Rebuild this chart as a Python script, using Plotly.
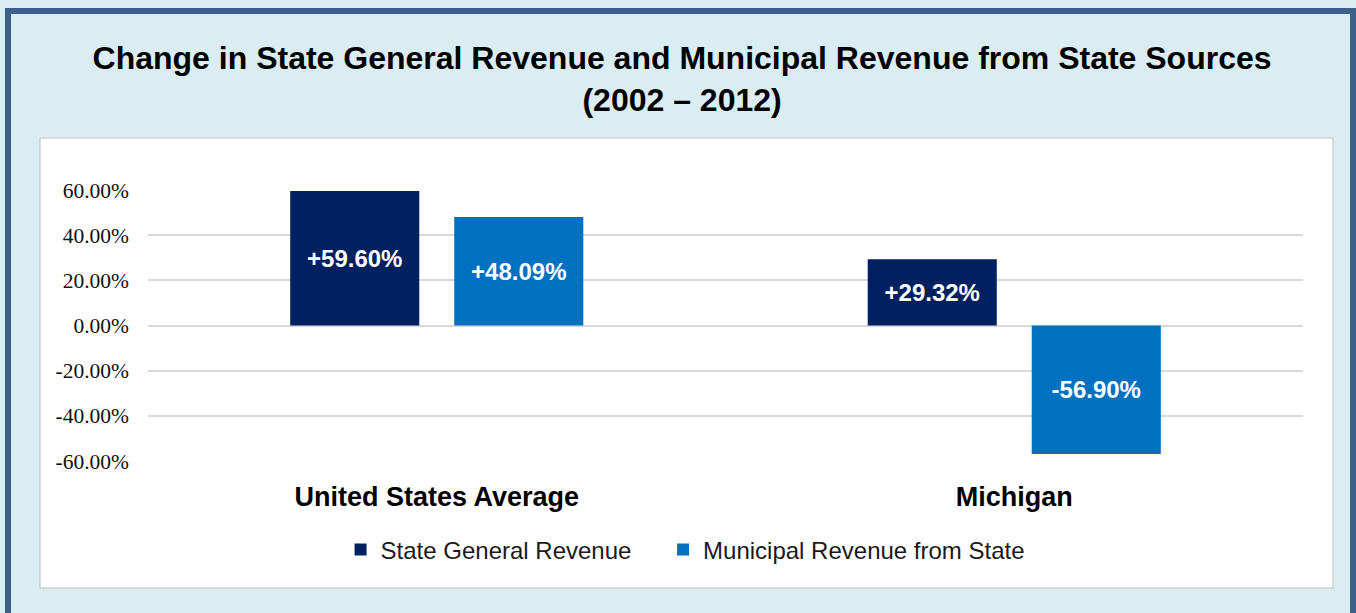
import plotly.graph_objects as go

# data (percent change 2002-2012)
categories = ["United States Average", "Michigan"]
state_general = [59.60, 29.32]
municipal_from_state = [48.09, -56.90]
series_names = ["State General Revenue", "Municipal Revenue from State"]
y_ticks = [-60, -40, -20, 0, 20, 40, 60]

NAVY = "#002060"
BLUE = "#0070C0"


def pct_label(v):
    return f"{v:+.2f}%"


fig = go.Figure()

# a few non-breaking spaces widen the gap between the legend entries
pads = ["\u00a0" * 4, ""]
for name, values, color, pad in zip(series_names, [state_general, municipal_from_state], [NAVY, BLUE], pads):
    fig.add_trace(go.Bar(
        x=categories, y=values, name=name + pad,
        marker=dict(color=color, line=dict(width=0)),
        text=[pct_label(v) for v in values],
        textposition="inside", insidetextanchor="middle",
        textfont=dict(family="Arial, Liberation Sans", size=24, color="white", weight="bold"),
        cliponaxis=False,
    ))

# plot area sits at x 148..1303, y 190..461 in the 1356x613 page
L, R, T, B = 148, 53, 190, 152
pw, ph = 1356 - L - R, 613 - T - B


def px(x):
    return (x - L) / pw


def py(y):
    return (613 - B - y) / ph


shapes = [
    # white inner panel
    dict(type="rect", xref="paper", yref="paper", layer="below",
         x0=px(40), x1=px(1333), y0=py(588), y1=py(138),
         fillcolor="white", line=dict(color="#D0D0D0", width=1.5)),
    # dark outer frame
    dict(type="rect", xref="paper", yref="paper", layer="below",
         x0=px(8), x1=px(1353), y0=py(640), y1=py(11),
         fillcolor="rgba(0,0,0,0)", line=dict(color="#3E5F8A", width=6)),
]

fig.update_layout(
    width=1356, height=613,
    margin=dict(l=L, r=R, t=T, b=B, autoexpand=False),
    paper_bgcolor="#DAEDF3",
    plot_bgcolor="white",
    shapes=shapes,
    barmode="group", bargap=0.432, bargroupgap=0.213,
    title=dict(
        text="Change in State General Revenue and Municipal Revenue from State Sources<br>(2002 – 2012)",
        x=0.503, xanchor="center", yref="container", y=1 - 69 / 613, yanchor="top",
        font=dict(family="Arial, Liberation Sans", size=32, color="black", weight="bold"),
    ),
    xaxis=dict(
        showgrid=False, showline=False, ticks="", ticklabelstandoff=17,
        tickfont=dict(family="Arial, Liberation Sans", size=27, color="black", weight="bold"),
    ),
    yaxis=dict(
        range=[-60, 60], tickvals=y_ticks, ticktext=[f"{v:.2f}%" for v in y_ticks],
        showgrid=True, gridcolor="#D9D9D9", gridwidth=1.5,
        zeroline=True, zerolinecolor="#D9D9D9", zerolinewidth=1.5,
        showline=False, ticks="", ticklabelstandoff=18,
        tickfont=dict(family="Liberation Serif, Times New Roman", size=21.5, color="#111111"),
    ),
    legend=dict(
        orientation="h", x=0.465, xanchor="center", y=py(550), yanchor="middle",
        font=dict(family="Arial, Liberation Sans", size=24, color="#1A1A1A"),
        bgcolor="rgba(0,0,0,0)", itemwidth=30,
    ),
    showlegend=True,
)

# drop the default page margin so the figure starts at the window corner
fig.write_html("out.html", config={"displayModeBar": False},
               post_script="document.body.style.margin='0';")
